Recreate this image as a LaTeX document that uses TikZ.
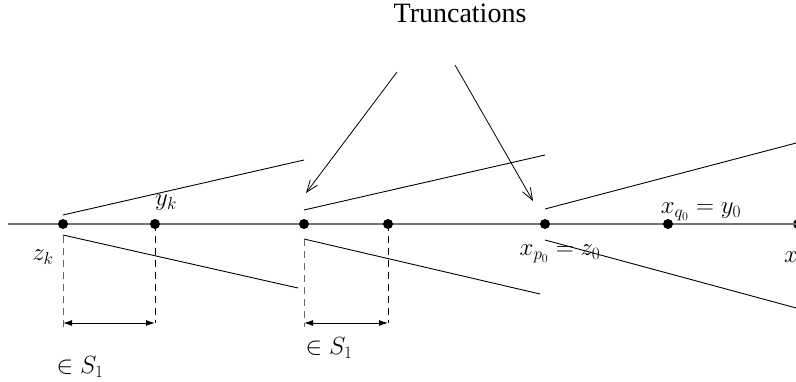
\documentclass[tikz,border=0pt]{standalone}
\usepackage{fontspec}
\newfontfamily\timesfont{Liberation Serif}
\usetikzlibrary{arrows.meta}
\begin{document}
\begin{tikzpicture}[x=1pt,y=-1pt,
  pt/.style={circle,fill=black,inner sep=0pt,minimum size=10pt},
  axis/.style={draw=black!55,line width=1.4pt},
  ray/.style={draw=black,line width=0.9pt},
  guide/.style={draw,line width=1pt,dash pattern=on 7pt off 5pt},
  span/.style={draw,line width=1pt,{Latex[length=9pt,width=6pt]}-{Latex[length=9pt,width=6pt]}},
  pointer/.style={draw,line width=0.8pt,-{Straight Barb[length=12pt,width=9pt]}},
  mlabel/.style={font=\fontsize{23}{27}\selectfont,inner sep=0pt}]
\useasboundingbox (0,0) rectangle (796,381);
% axis
\coordinate (a0) at (8,224);
\node[pt] (xe) at (798,224) {};
\draw[axis] (a0) -- (xe.center);
\node[pt] (zk) at (63,224) {};
\node[pt] (yk) at (155,224) {};
\node[pt] (p1) at (304,224) {};
\node[pt] (p2) at (388,224) {};
\node[pt] (zo) at (545,224) {};
\node[pt] (yo) at (668,224) {};
% wedge rays
\coordinate (u1a) at (63,215);  \coordinate (u1b) at (304,160);
\coordinate (l1a) at (63,235);  \coordinate (l1b) at (298,288);
\coordinate (u2a) at (304,210); \coordinate (u2b) at (545,155);
\coordinate (l2a) at (304,239); \coordinate (l2b) at (540,294);
\coordinate (u3a) at (545,209); \coordinate (u3b) at (800,142);
\coordinate (l3a) at (545,240); \coordinate (l3b) at (800,309);
\draw[ray] (u1a) -- (u1b);
\draw[ray] (l1a) -- (l1b);
\draw[ray] (u2a) -- (u2b);
\draw[ray] (l2a) -- (l2b);
\draw[ray] (u3a) -- (u3b);
\draw[ray] (l3a) -- (l3b);
% dashed guides
\coordinate (g1) at (63,327);  \coordinate (g1t) at (63,236);
\coordinate (g2) at (155,323);
\coordinate (g3) at (304,327); \coordinate (g3t) at (304,239);
\coordinate (g4) at (388,323);
\draw[guide,black!60] (g1t) -- (g1);
\draw[guide] (yk.center) -- (g2);
\draw[guide,black!60] (g3t) -- (g3);
\draw[guide] (p2.center) -- (g4);
% spans
\coordinate (s1a) at (63,323);  \coordinate (s1b) at (155,323);
\coordinate (s2a) at (304,323); \coordinate (s2b) at (388,323);
\draw[span] (s1a) -- (s1b);
\draw[span] (s2a) -- (s2b);
% labels
\node[mlabel] (lzk) at (43,257) {$z_k$};
\node[mlabel] (lyk) at (166,203) {$y_k$};
\node[mlabel] (lzo) at (560,254) {$x_{p_0}=z_0$};
\node[mlabel] (lyo) at (701,212) {$x_{q_0}=y_0$};
\node[mlabel] (lx) at (791,257) {$x$};
\node[mlabel] (ls1) at (80,367) {$\in S_1$};
\node[mlabel] (ls2) at (329,348) {$\in S_1$};
\node[font=\timesfont\fontsize{28}{32}\selectfont,inner sep=0pt,anchor=base] (tr) at (460,22) {Truncations};
% pointers
\coordinate (t1) at (397,72);  \coordinate (h1) at (306,193);
\coordinate (t2) at (455,65);  \coordinate (h2) at (533,201);
\draw[pointer] (t1) -- (h1);
\draw[pointer] (t2) -- (h2);
\end{tikzpicture}
\end{document}
